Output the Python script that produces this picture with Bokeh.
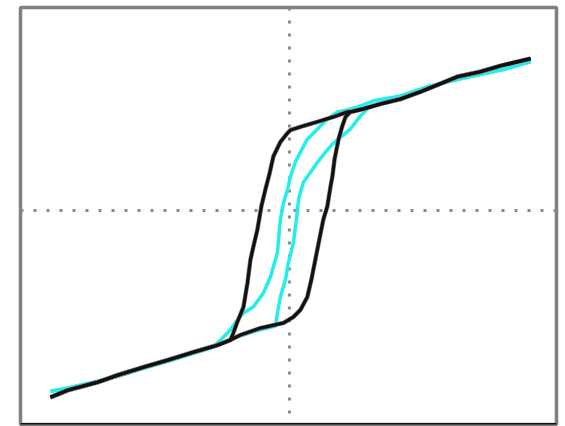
from bokeh.plotting import figure
from bokeh.models import Span, Range1d
from bokeh.embed import file_html
from bokeh.resources import INLINE

# Major loop (black): descending branch, from positive to negative saturation
black_desc_x = [90.3, 79.0, 71.5, 62.9, 56.5, 49.1, 41.6, 34.1, 27.7, 22.8, 21.7, 16.5, 10.5, 5.2, 0.4,
                -0.7, -3.4, -6.0, -7.5, -9.0, -10.5, -12.0, -13.5, -14.6, -15.7, -17.2, -18.4, -19.5, -21.0, -22.1,
                -27.0, -36.0, -45.7, -54.7, -64.4, -71.9, -83.1, -89.5]
black_desc_y = [73.7, 70.2, 67.3, 64.9, 61.5, 57.6, 54.1, 51.7, 49.3, 47.8, 47.8, 45.4, 43.0, 41.0, 39.0,
                37.6, 33.2, 26.3, 17.6, 10.2, 2.0, -9.3, -17.6, -23.9, -35.1, -46.8, -50.7, -54.1, -59.5, -62.9,
                -65.4, -68.8, -72.7, -76.1, -80.0, -83.4, -87.3, -90.7]

# Major loop (black): ascending branch, from negative to positive saturation
black_asc_x = [-89.5, -83.1, -71.9, -64.4, -54.7, -45.7, -36.0, -27.0, -22.1,
               -18.4, -10.9, -2.2, 1.5, 4.1, 6.7, 8.2, 9.7, 11.2, 12.7, 14.2, 15.4, 16.1, 16.9, 18.4, 19.8, 21.0, 22.8,
               27.7, 34.1, 41.6, 49.1, 56.5, 62.9, 71.5, 79.0, 90.3]
black_asc_y = [-90.7, -87.3, -83.4, -80.0, -76.1, -72.7, -68.8, -65.4, -62.9,
               -60.5, -57.1, -54.6, -51.7, -48.3, -42.0, -33.7, -23.9, -14.1, -4.4, 2.0, 11.7, 16.6, 24.9, 34.6, 41.0, 45.4, 47.8,
               49.3, 51.7, 54.1, 57.6, 61.5, 64.9, 67.3, 70.2, 73.7]

# Inner loop (cyan): descending branch
cyan_desc_x = [90.3, 81.3, 64.0, 51.7, 41.6, 31.5, 25.5, 21.7, 18.0, 14.2, 10.5, 6.7, 4.1, 2.2, 0.4, -0.7,
               -2.2, -3.4, -4.5, -7.1, -9.7, -13.5, -17.2, -19.5, -22.1, -25.8, -28.5,
               -36.0, -45.7, -54.7, -64.4, -71.9, -83.1, -89.5]
cyan_desc_y = [72.2, 68.8, 63.9, 60.0, 55.6, 53.2, 50.2, 48.8, 47.8, 44.4, 39.5, 34.6, 28.3, 23.4, 16.6, 10.2,
               3.9, -4.4, -20.5, -32.2, -40.0, -46.8, -49.8, -53.2, -58.0, -62.9, -66.3,
               -69.3, -73.2, -76.6, -80.5, -82.9, -86.3, -87.8]

# Inner loop (cyan): ascending branch
cyan_asc_x = [-89.5, -83.1, -71.9, -64.4, -54.7, -45.7, -36.0, -28.5, -22.1, -12.7, -5.2,
              -4.5, -3.4, -1.5, -0.4, 1.5, 2.6, 3.4, 5.2, 7.9, 10.5, 13.5, 16.1, 19.1, 22.8, 26.6, 30.3,
              34.1, 41.6, 51.7, 64.0, 81.3, 90.3]
cyan_asc_y = [-87.8, -86.3, -82.9, -80.5, -76.6, -73.2, -69.3, -66.3, -62.4, -58.5, -56.1,
              -49.8, -42.0, -33.7, -25.4, -15.6, -4.4, 5.4, 13.7, 18.5, 23.4, 28.3, 32.2, 35.6, 39.5, 45.9, 50.7,
              52.2, 55.6, 60.0, 63.9, 68.8, 72.2]

p = figure(width=565, height=426, output_backend="svg", toolbar_location=None,
           x_range=Range1d(-100.7, 100.0), y_range=Range1d(-103.9, 98.5),
           min_border_left=20, min_border_right=9, min_border_top=7, min_border_bottom=2)
p.axis.visible = False
p.grid.visible = False
p.background_fill_color = "white"
p.border_fill_color = "white"
p.outline_line_color = "#808080"
p.outline_line_width = 3.5
p.outline_line_alpha = 1.0

for loc, dim in [(0, "width"), (0, "height")]:
    p.add_layout(Span(location=loc, dimension=dim, line_color="#8a8a8a",
                      line_width=3, line_dash="3 10", level="underlay"))

p.add_layout(Span(location=-103.9, dimension="width", line_color="#111111", line_width=3))

p.line(cyan_desc_x, cyan_desc_y, line_color="#22eeee", line_width=3.5)
p.line(cyan_asc_x, cyan_asc_y, line_color="#22eeee", line_width=3.5)
p.line(black_desc_x, black_desc_y, line_color="#808080", line_width=4.5, line_join="miter")
p.line(black_asc_x, black_asc_y, line_color="#808080", line_width=4.5, line_join="miter")
p.line(black_desc_x, black_desc_y, line_color="#111111", line_width=3.2, line_join="miter")
p.line(black_asc_x, black_asc_y, line_color="#111111", line_width=3.2, line_join="miter")

open("out.html", "w").write(file_html(p, INLINE))
